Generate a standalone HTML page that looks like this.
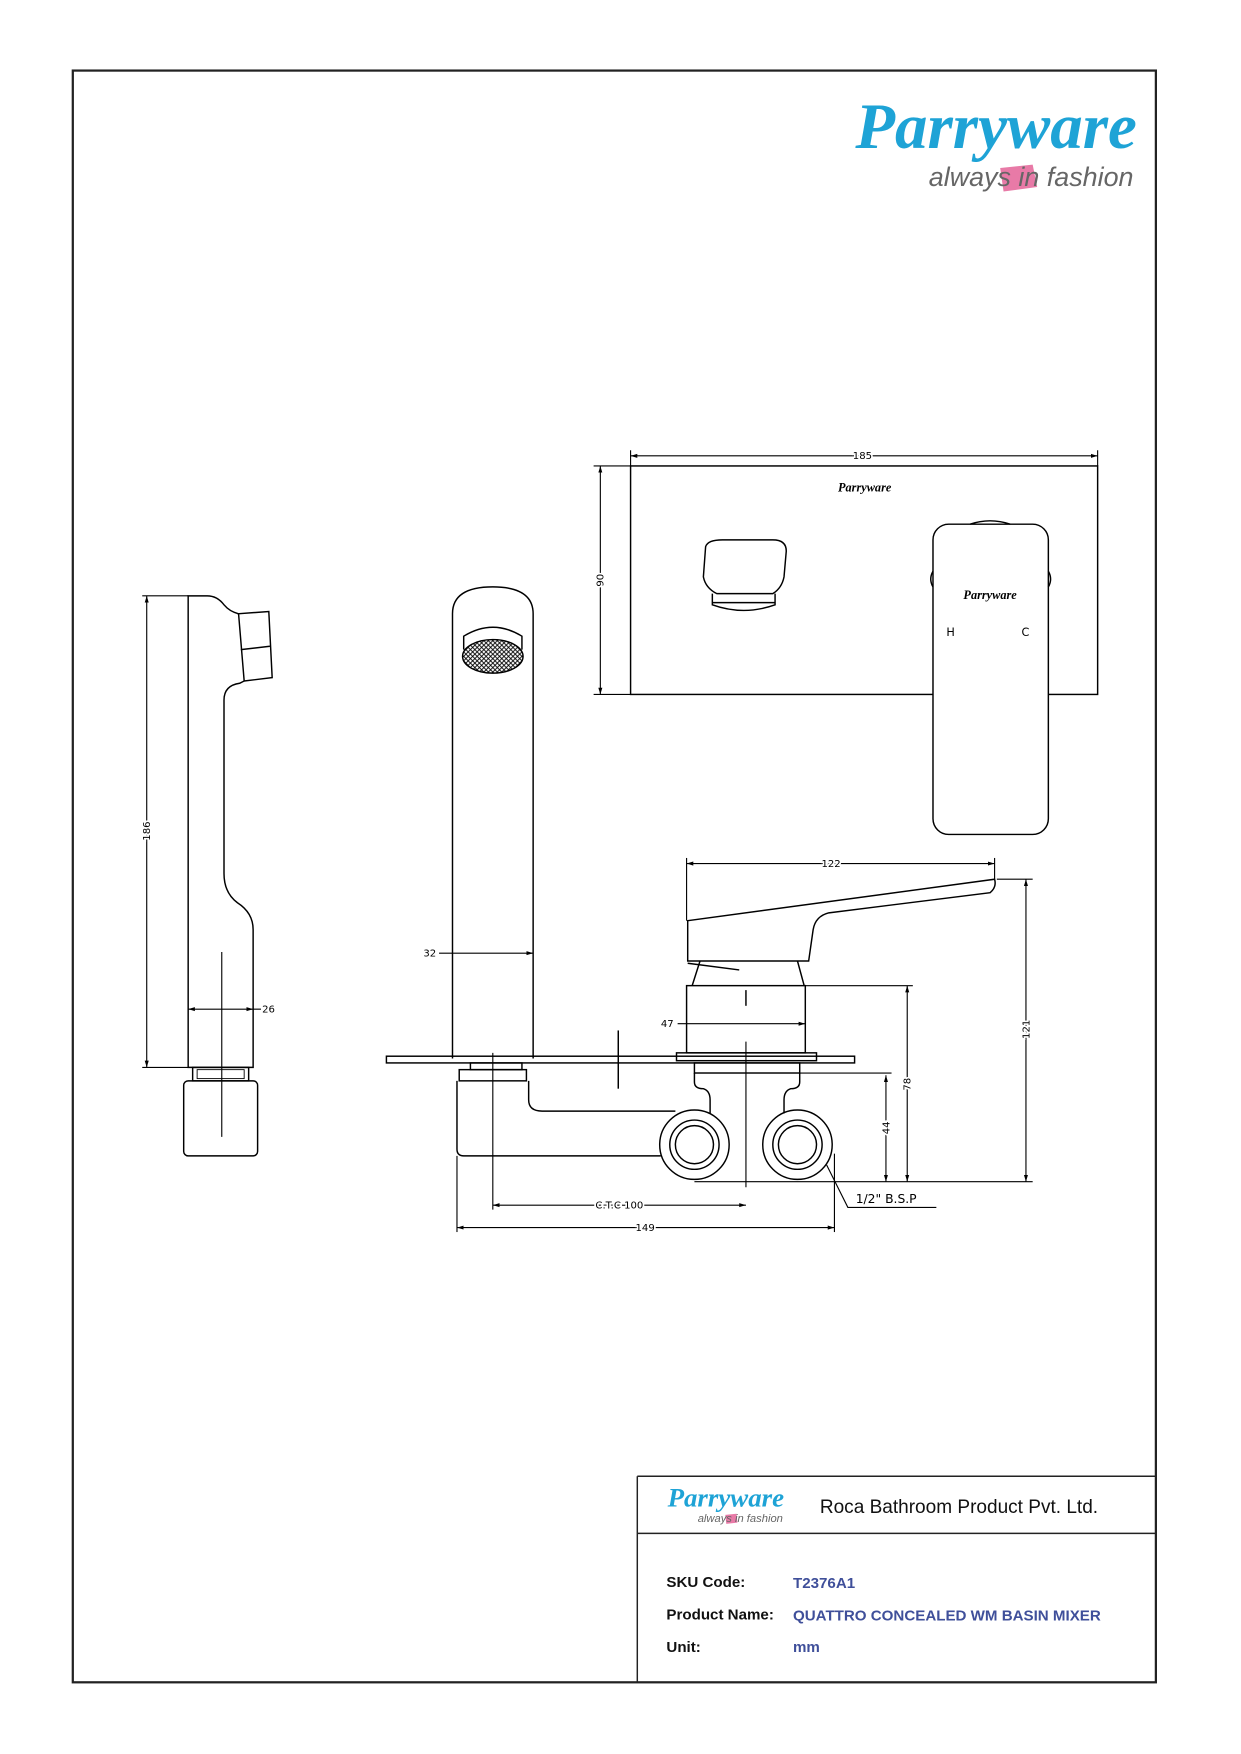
<!DOCTYPE html>
<html><head><meta charset="utf-8"><style>
html,body{margin:0;padding:0;background:#fff;}
svg{display:block;}
.d text{paint-order:stroke;stroke:#fff;stroke-width:3px;}
</style></head><body>
<svg width="1241" height="1754" viewBox="0 0 1108 1566" xmlns="http://www.w3.org/2000/svg">
<defs>
<marker id="a" viewBox="0 0 10 10" refX="10" refY="5" markerWidth="6" markerHeight="6" orient="auto-start-reverse"><path d="M0,2 L10,5 L0,8 z" fill="#000"/></marker>
<pattern id="h" width="4" height="4" patternUnits="userSpaceOnUse"><path d="M0,0 L4,4 M4,0 L0,4" stroke="#000" stroke-width="0.8"/></pattern>
</defs>
<rect x="0" y="0" width="1108" height="1566" fill="#fff"/>
<rect x="65" y="63" width="967" height="1439" fill="none" stroke="#222" stroke-width="2"/>
<text x="1015" y="132" text-anchor="end" font-family="Liberation Serif, serif" font-style="italic" font-weight="bold" font-size="58" fill="#1ea3d6">Parryware</text>
<path d="M893,150 L922,147 L926,167 L896,171 z" fill="#e87aa7"/>
<text x="1012" y="166" text-anchor="end" font-family="Liberation Sans, sans-serif" font-style="italic" font-size="24" fill="#666">always in fashion</text>

<g fill="none" stroke="#000" stroke-width="1.3" font-family="DejaVu Sans, sans-serif">
<line x1="131" y1="532" x2="131" y2="953" stroke-width="1" marker-start="url(#a)" marker-end="url(#a)"/>
<line x1="127" y1="532" x2="168" y2="532" stroke-width="1"/>
<line x1="127" y1="953" x2="168" y2="953" stroke-width="1"/>
<path d="M168,532 L168,953 L226,953 L226,830 Q226,815 212,806 Q200,797 200,780 L200,625 Q200,612 214,610 L218,608 L213,548 Q205,546 200,540 Q194,532 185,532 Z"/>
<path d="M212,548 L240,546 L243,605 L218,608"/>
<line x1="215" y1="580" x2="241" y2="577"/>
<rect x="172" y="953" width="50" height="12"/>
<rect x="176" y="955" width="42" height="8" stroke-width="0.8"/>
<rect x="164" y="965" width="66" height="67" rx="4"/>
<line x1="198" y1="850" x2="198" y2="1015" stroke-width="1"/>
<line x1="168" y1="901" x2="226" y2="901" stroke-width="1" marker-start="url(#a)" marker-end="url(#a)"/>
<line x1="226" y1="901" x2="233" y2="901" stroke-width="1"/>

<path d="M404,945 L404,548 Q404,524 440,524 Q476,524 476,548 L476,945"/>
<path d="M414,580 L414,568 Q440,552 466,568 L466,580"/>
<ellipse cx="440" cy="586" rx="27" ry="15" fill="url(#h)"/>
<line x1="392" y1="851" x2="476" y2="851" stroke-width="1" marker-end="url(#a)"/>
<rect x="345" y="943" width="418" height="6"/>
<rect x="420" y="949" width="46" height="6"/>
<rect x="410" y="955" width="60" height="10"/>
<path d="M408,965 L408,1026 Q408,1032 414,1032 L590,1032"/>
<path d="M472,965 L472,982 Q472,992 484,992 L603,992"/>
<line x1="552" y1="920" x2="552" y2="972"/>
<line x1="440" y1="940" x2="440" y2="1080" stroke-width="1"/>
<circle cx="620" cy="1022" r="31"/><circle cx="620" cy="1022" r="22"/><circle cx="620" cy="1022" r="17"/>
<circle cx="712" cy="1022" r="31"/><circle cx="712" cy="1022" r="22"/><circle cx="712" cy="1022" r="17"/>
<path d="M620,958 L620,966 Q620,972 628,972 Q634,974 634,982 L634,994"/>
<path d="M714,958 L714,966 Q714,972 706,972 Q700,974 700,982 L700,994"/>
<rect x="604" y="940" width="125" height="7"/>
<rect x="620" y="949" width="94" height="9"/>
<rect x="613" y="880" width="106" height="60"/>
<line x1="666" y1="884" x2="666" y2="898"/>
<line x1="666" y1="930" x2="666" y2="1060" stroke-width="1"/>
<path d="M625,858 L618,880 M712,858 L718,880"/>
<path d="M614,822 L888,785 Q890,792 884,797 L740,815 Q728,818 726,830 L722,858 L614,858 Z"/>
<line x1="614" y1="860" x2="660" y2="866"/>
<line x1="613" y1="771" x2="888" y2="771" stroke-width="1" marker-start="url(#a)" marker-end="url(#a)"/>
<line x1="613" y1="766" x2="613" y2="822" stroke-width="1"/><line x1="888" y1="766" x2="888" y2="785" stroke-width="1"/>
<line x1="916" y1="785" x2="916" y2="1055" stroke-width="1" marker-start="url(#a)" marker-end="url(#a)"/>
<line x1="890" y1="785" x2="922" y2="785" stroke-width="1"/>
<line x1="810" y1="880" x2="810" y2="1055" stroke-width="1" marker-start="url(#a)" marker-end="url(#a)"/>
<line x1="719" y1="880" x2="815" y2="880" stroke-width="1"/>
<line x1="791" y1="960" x2="791" y2="1055" stroke-width="1" marker-start="url(#a)" marker-end="url(#a)"/>
<line x1="714" y1="958" x2="796" y2="958" stroke-width="1"/>
<line x1="620" y1="1055" x2="922" y2="1055" stroke-width="1"/>
<line x1="605" y1="914" x2="719" y2="914" stroke-width="1" marker-end="url(#a)"/>
<line x1="440" y1="1076" x2="666" y2="1076" stroke-width="1" marker-start="url(#a)" marker-end="url(#a)"/>
<line x1="408" y1="1096" x2="745" y2="1096" stroke-width="1" marker-start="url(#a)" marker-end="url(#a)"/>
<line x1="408" y1="1032" x2="408" y2="1100" stroke-width="1"/>
<line x1="745" y1="1030" x2="745" y2="1100" stroke-width="1"/>
<path d="M738,1040 L757,1078 L836,1078" stroke-width="1"/>
<rect x="563" y="416" width="417" height="204"/>
<line x1="563" y1="407" x2="980" y2="407" stroke-width="1" marker-start="url(#a)" marker-end="url(#a)"/>
<line x1="563" y1="402" x2="563" y2="416" stroke-width="1"/><line x1="980" y1="402" x2="980" y2="416" stroke-width="1"/>
<line x1="536" y1="416" x2="536" y2="620" stroke-width="1" marker-start="url(#a)" marker-end="url(#a)"/>
<line x1="530" y1="416" x2="563" y2="416" stroke-width="1"/><line x1="530" y1="620" x2="563" y2="620" stroke-width="1"/>
<path d="M630,488 Q632,482 645,482 L690,482 Q702,482 702,492 L700,515 Q698,525 690,530 L640,530 Q630,525 628,515 Z"/>
<path d="M636,530 L636,540 Q664,550 692,540 L692,530"/>
<line x1="636" y1="538" x2="692" y2="538"/>
<rect x="833" y="468" width="103" height="277" rx="14" fill="#fff"/>
<path d="M866,468 Q884,462 902,468" />
<path d="M833,510 Q829,517 833,524 M936,510 Q940,517 936,524"/>
</g>
<g class="d" font-family="DejaVu Sans, sans-serif" font-size="9" fill="#000">
<text x="131" y="742" transform="rotate(-90 131 742)" text-anchor="middle" dy="3">186</text>
<text x="234" y="904">26</text>
<text x="378" y="854">32</text>
<text x="590" y="917">47</text>
<text x="742" y="774" text-anchor="middle">122</text>
<text x="770" y="410" text-anchor="middle">185</text>
<text x="536" y="518" transform="rotate(-90 536 518)" text-anchor="middle" dy="3">90</text>
<text x="916" y="919" transform="rotate(-90 916 919)" text-anchor="middle" dy="3">121</text>
<text x="810" y="968" transform="rotate(-90 810 968)" text-anchor="middle" dy="3">78</text>
<text x="791" y="1007" transform="rotate(-90 791 1007)" text-anchor="middle" dy="3">44</text>
<text x="553" y="1079" text-anchor="middle">C.T.C 100</text>
<text x="576" y="1099" text-anchor="middle">149</text>
<text x="764" y="1074" font-size="11">1/2" B.S.P</text>
<text x="845" y="568" font-size="10">H</text>
<text x="912" y="568" font-size="10">C</text>
<text x="772" y="439" text-anchor="middle" font-family="Liberation Serif, serif" font-style="italic" font-weight="bold" font-size="11">Parryware</text>
<text x="884" y="535" text-anchor="middle" font-family="Liberation Serif, serif" font-style="italic" font-weight="bold" font-size="11">Parryware</text>
</g>
<g fill="none" stroke="#222" stroke-width="1.3">
<line x1="569" y1="1318" x2="1032" y2="1318"/>
<line x1="569" y1="1318" x2="569" y2="1502"/>
<line x1="569" y1="1369" x2="1032" y2="1369"/>
</g>
<text x="700" y="1345" text-anchor="end" font-family="Liberation Serif, serif" font-style="italic" font-weight="bold" font-size="24" fill="#1ea3d6">Parryware</text>
<rect x="648" y="1352" width="10" height="8" fill="#e87aa7" transform="rotate(-6 653 1356)"/>
<text x="699" y="1359" text-anchor="end" font-family="Liberation Sans, sans-serif" font-style="italic" font-size="10" fill="#666">always in fashion</text>
<text x="732" y="1351" font-family="Liberation Sans, sans-serif" font-size="17" fill="#111">Roca Bathroom Product Pvt. Ltd.</text>
<g font-family="Liberation Sans, sans-serif" font-size="13.5">
<text x="595" y="1417" fill="#111" font-weight="bold">SKU Code:</text>
<text x="595" y="1446" fill="#111" font-weight="bold">Product Name:</text>
<text x="595" y="1475" fill="#111" font-weight="bold">Unit:</text>
<text x="708" y="1418" fill="#3f4f9a" font-weight="bold">T2376A1</text>
<text x="708" y="1447" fill="#3f4f9a" font-weight="bold">QUATTRO CONCEALED WM BASIN MIXER</text>
<text x="708" y="1475" fill="#3f4f9a" font-weight="bold">mm</text>
</g>
</svg>
</body></html>
